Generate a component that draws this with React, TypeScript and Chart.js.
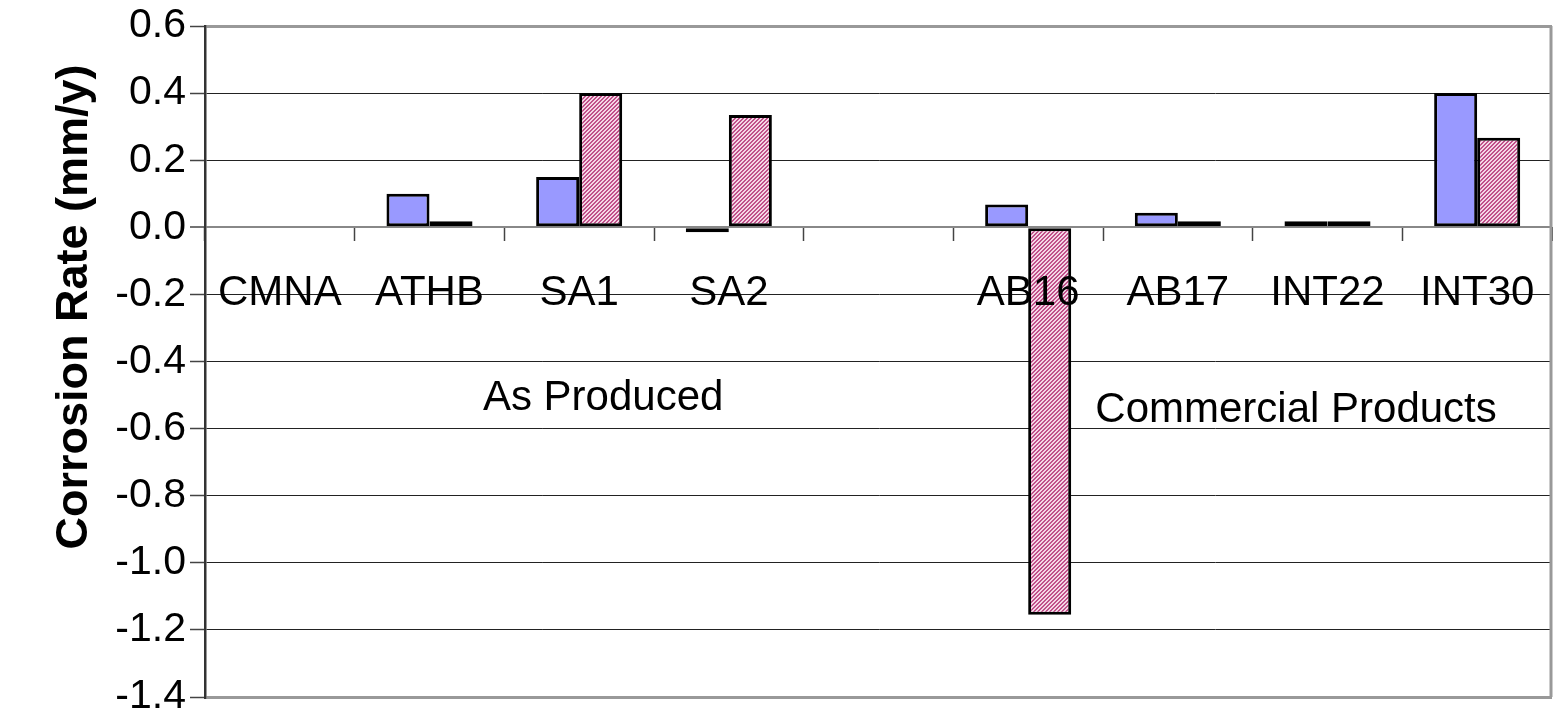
import { useEffect, useRef } from 'react';
import { Chart, registerables } from 'chart.js';

Chart.register(...registerables);

const categories = ['CMNA', 'ATHB', 'SA1', 'SA2', '', 'AB16', 'AB17', 'INT22', 'INT30'];
const seriesBlue = [0, 0.1, 0.15, -0.015, null, 0.068, 0.043, 0.018, 0.4];
const seriesPink = [0, 0.018, 0.4, 0.335, null, -1.155, 0.018, 0.018, 0.267];
const yMin = -1.4;
const yMax = 0.6;
const yStep = 0.2;
const yTitle = 'Corrosion Rate (mm/y)';
const groupLabels = ['As Produced', 'Commercial Products'];
const groupLabelIndex = [2.16, 6.79];
const groupLabelValue = [-0.51, -0.545];

const FONT = '"Liberation Sans", Arial, sans-serif';

function makePattern(ctx: CanvasRenderingContext2D) {
  const c = document.createElement('canvas');
  c.width = 4;
  c.height = 4;
  const p = c.getContext('2d')!;
  p.fillStyle = '#f5d6e6';
  p.fillRect(0, 0, 4, 4);
  p.fillStyle = '#c0508a';
  for (let i = 0; i < 4; i++) {
    p.fillRect(i, (4 - i) % 4, 1, 1);
    p.fillRect(i, (5 - i) % 4, 1, 1);
  }
  return ctx.createPattern(c, 'repeat')!;
}

export default function App() {
  const ref = useRef<HTMLCanvasElement | null>(null);
  useEffect(() => {
    const canvas = ref.current!;
    const ctx = canvas.getContext('2d')!;
    const pattern = makePattern(ctx);

    const extras = {
      id: 'extras',
      afterDatasetsDraw(chart: any) {
        const c = chart.ctx;
        const xs = chart.scales.x;
        const ys = chart.scales.y;
        c.save();
        c.font = `42px ${FONT}`;
        c.fillStyle = '#000';
        c.textAlign = 'center';
        c.textBaseline = 'middle';
        groupLabels.forEach((t, i) => {
          c.fillText(t, xs.getPixelForValue(groupLabelIndex[i]), ys.getPixelForValue(groupLabelValue[i]));
        });
        c.restore();
      },
      afterDraw(chart: any) {
        const c = chart.ctx;
        const a = chart.chartArea;
        c.save();
        c.strokeStyle = '#999';
        c.lineWidth = 3;
        c.beginPath();
        c.moveTo(a.right - 1, a.top);
        c.lineTo(a.right - 1, a.bottom);
        c.stroke();
        // y-axis title
        c.translate(75, 307);
        c.rotate(-Math.PI / 2);
        c.font = `bold 45px ${FONT}`;
        c.fillStyle = '#000';
        c.textAlign = 'center';
        c.textBaseline = 'middle';
        c.fillText(yTitle, 0, 0);
        c.restore();
      },
    };

    const chart = new Chart(ctx, {
      type: 'bar',
      data: {
        labels: categories,
        datasets: [
          {
            data: seriesBlue as any,
            backgroundColor: '#9999ff',
            borderColor: '#000',
            borderWidth: 3,
            borderSkipped: false,
            categoryPercentage: 0.575,
            barPercentage: 1,
          },
          {
            data: seriesPink as any,
            backgroundColor: pattern as any,
            borderColor: '#000',
            borderWidth: 3,
            borderSkipped: false,
            categoryPercentage: 0.575,
            barPercentage: 1,
          },
        ],
      },
      options: {
        animation: false,
        responsive: true,
        maintainAspectRatio: false,
        layout: { padding: { left: 0, right: 1, top: 26, bottom: 16 } },
        plugins: { legend: { display: false }, tooltip: { enabled: false } },
        scales: {
          x: {
            position: { y: 0 } as any,
            offset: true,
            afterFit(scale: any) {
              scale.paddingLeft = 0;
              scale.paddingRight = 0;
            },
            grid: {
              offset: true,
              drawOnChartArea: false,
              drawTicks: true,
              tickLength: 14,
              tickColor: '#444',
              tickWidth: 1.5,
            },
            border: { display: false },
            ticks: {
              z: 1,
              color: '#000',
              font: { family: FONT, size: 42 },
              padding: 27,
              autoSkip: false,
              maxRotation: 0,
              minRotation: 0,
            },
          },
          y: {
            min: yMin,
            max: yMax,
            afterFit(scale: any) {
              scale.width = 205;
              scale.paddingTop = 0;
              scale.paddingBottom = 0;
            },
            ticks: {
              stepSize: yStep,
              color: '#000',
              font: { family: FONT, size: 41 },
              padding: 4,
              callback: (v: any) => Number(v).toFixed(1),
            },
            grid: {
              color: (c: any) => {
                const v = c.tick ? Math.round(c.tick.value * 10) / 10 : 0;
                if (v === yMax || v === yMin) return '#999';
                if (v === 0) return '#888';
                return '#222';
              },
              lineWidth: (c: any) => {
                const v = c.tick ? Math.round(c.tick.value * 10) / 10 : 0;
                if (v === yMax || v === yMin) return 3;
                if (v === 0) return 2;
                return 1;
              },
              tickLength: 15,
              tickColor: '#444',
              tickWidth: 1.5,
            },
            border: { color: '#333', width: 2.5 },
            title: { display: false },
          },
        },
      },
      plugins: [extras],
    });
    return () => chart.destroy();
  }, []);

  return (
    <div style={{ position: 'fixed', left: 0, top: 0, width: '1553px', height: '713px', background: '#fff' }}>
      <canvas ref={ref} />
    </div>
  );
}
